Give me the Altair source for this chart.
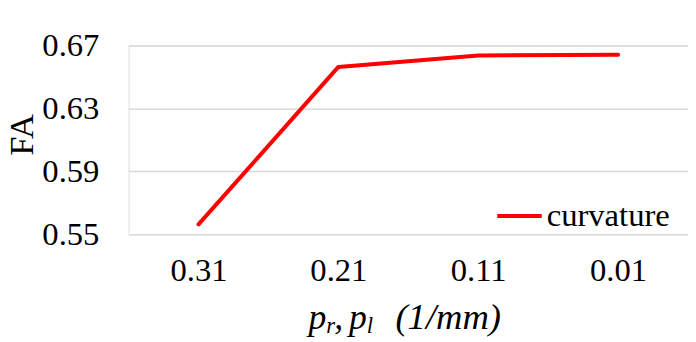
import altair as alt
import pandas as pd

# data
categories = ["0.31", "0.21", "0.11", "0.01"]
fa_values = [0.5563, 0.6564, 0.6637, 0.6641]
series_name = "curvature"
y_ticks = [0.55, 0.59, 0.63, 0.67]

df = pd.DataFrame({"p": categories, "FA": fa_values, "series": [series_name] * len(categories)})

FONT = "'Liberation Serif', 'Times New Roman', Tinos, 'DejaVu Serif', serif"
PLOT_W, PLOT_H = 566, 191

line = alt.Chart(df).mark_line(strokeWidth=4, strokeCap="round", strokeJoin="round").encode(
    x=alt.X("p:N", sort=categories, scale=alt.Scale(type="point", padding=0.5),
            axis=alt.Axis(title=None, labelAngle=0, ticks=False, domain=False, grid=False,
                          labelFont=FONT, labelFontSize=33, labelColor="#000000", labelPadding=21)),
    y=alt.Y("FA:Q", scale=alt.Scale(domain=[0.55, 0.67], nice=False, zero=False),
            axis=alt.Axis(values=y_ticks, format=".2f", ticks=False, domain=False,
                          grid=True, gridColor="#d9d9d9", gridWidth=1.5,
                          labelFont=FONT, labelFontSize=33, labelColor="#000000", labelPadding=30,
                          title="FA", titleFont=FONT, titleFontSize=35, titleFontWeight="normal",
                          titleColor="#000000", titleAngle=270, titleBaseline="middle",
                          titleAlign="center", titleX=-108, titleY=90)),
    color=alt.Color("series:N", scale=alt.Scale(domain=[series_name], range=["#ff0000"]),
                    legend=alt.Legend(title=None, orient="none", legendX=371, legendY=148,
                                      symbolType="stroke", symbolSize=2025, symbolStrokeWidth=4,
                                      labelFont=FONT, labelFontSize=33, labelColor="#000000",
                                      labelOffset=3, padding=0)),
)

def piece(txt, x, y, size, italic=True):
    return alt.Chart(alt.Data(values=[{}])).mark_text(
        text=txt, font=FONT, fontSize=size, fontStyle="italic" if italic else "normal",
        align="left", baseline="alphabetic", color="#000000"
    ).encode(x=alt.value(x), y=alt.value(y))

title_parts = [
    piece("p", 182, 287, 36),
    piece("r", 200, 291, 23),
    piece(",", 208, 287, 36),
    piece("p", 223, 287, 36),
    piece("l", 241, 291, 23),
    piece("(1/mm)", 270, 287, 37),
]

chart = alt.layer(line, *title_parts).properties(
    width=PLOT_W, height=PLOT_H,
    autosize=alt.AutoSizeParams(type="none"),
    padding={"left": 122, "top": 36, "right": 0, "bottom": 107},
).configure_view(stroke=None).configure(background="#ffffff")

chart.save("out.html", embed_options={"renderer": "svg", "actions": False})
